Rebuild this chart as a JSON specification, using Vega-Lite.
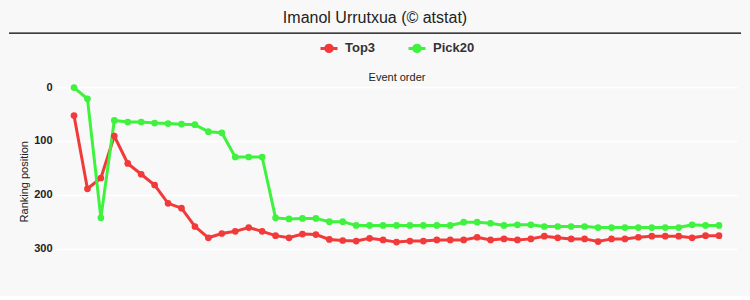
{
  "$schema": "https://vega.github.io/schema/vega-lite/v6.json",
  "width": 681,
  "height": 188.5,
  "autosize": {"type": "pad"},
  "padding": {"top": 10, "bottom": 20, "left": 8, "right": 10},
  "background": "#f8f8f8",
  "title": {
    "text": "Imanol Urrutxua (© atstat)",
    "fontSize": 16,
    "fontWeight": "normal",
    "font": "Liberation Sans",
    "color": "#222222",
    "anchor": "middle",
    "frame": "bounds",
    "offset": 6
  },
  "config": {
    "view": {"stroke": null},
    "font": "Liberation Sans",
    "axis": {"labelOverlap": false},
    "legend": {"layout": {"top": {"anchor": "middle"}}}
  },
  "data": {
    "values": [
      {"event": 1, "series": "Top3", "rank": 53},
      {"event": 2, "series": "Top3", "rank": 189},
      {"event": 3, "series": "Top3", "rank": 169},
      {"event": 4, "series": "Top3", "rank": 91},
      {"event": 5, "series": "Top3", "rank": 142},
      {"event": 6, "series": "Top3", "rank": 162},
      {"event": 7, "series": "Top3", "rank": 182},
      {"event": 8, "series": "Top3", "rank": 216},
      {"event": 9, "series": "Top3", "rank": 225},
      {"event": 10, "series": "Top3", "rank": 259},
      {"event": 11, "series": "Top3", "rank": 280},
      {"event": 12, "series": "Top3", "rank": 272},
      {"event": 13, "series": "Top3", "rank": 268},
      {"event": 14, "series": "Top3", "rank": 261},
      {"event": 15, "series": "Top3", "rank": 268},
      {"event": 16, "series": "Top3", "rank": 276},
      {"event": 17, "series": "Top3", "rank": 280},
      {"event": 18, "series": "Top3", "rank": 273},
      {"event": 19, "series": "Top3", "rank": 274},
      {"event": 20, "series": "Top3", "rank": 283},
      {"event": 21, "series": "Top3", "rank": 285},
      {"event": 22, "series": "Top3", "rank": 286},
      {"event": 23, "series": "Top3", "rank": 281},
      {"event": 24, "series": "Top3", "rank": 284},
      {"event": 25, "series": "Top3", "rank": 288},
      {"event": 26, "series": "Top3", "rank": 286},
      {"event": 27, "series": "Top3", "rank": 286},
      {"event": 28, "series": "Top3", "rank": 284},
      {"event": 29, "series": "Top3", "rank": 284},
      {"event": 30, "series": "Top3", "rank": 284},
      {"event": 31, "series": "Top3", "rank": 279},
      {"event": 32, "series": "Top3", "rank": 284},
      {"event": 33, "series": "Top3", "rank": 282},
      {"event": 34, "series": "Top3", "rank": 284},
      {"event": 35, "series": "Top3", "rank": 282},
      {"event": 36, "series": "Top3", "rank": 277},
      {"event": 37, "series": "Top3", "rank": 280},
      {"event": 38, "series": "Top3", "rank": 282},
      {"event": 39, "series": "Top3", "rank": 282},
      {"event": 40, "series": "Top3", "rank": 287},
      {"event": 41, "series": "Top3", "rank": 282},
      {"event": 42, "series": "Top3", "rank": 282},
      {"event": 43, "series": "Top3", "rank": 279},
      {"event": 44, "series": "Top3", "rank": 277},
      {"event": 45, "series": "Top3", "rank": 277},
      {"event": 46, "series": "Top3", "rank": 277},
      {"event": 47, "series": "Top3", "rank": 280},
      {"event": 48, "series": "Top3", "rank": 276},
      {"event": 49, "series": "Top3", "rank": 276},
      {"event": 1, "series": "Pick20", "rank": 1},
      {"event": 2, "series": "Pick20", "rank": 22},
      {"event": 3, "series": "Pick20", "rank": 243},
      {"event": 4, "series": "Pick20", "rank": 62},
      {"event": 5, "series": "Pick20", "rank": 65},
      {"event": 6, "series": "Pick20", "rank": 65},
      {"event": 7, "series": "Pick20", "rank": 67},
      {"event": 8, "series": "Pick20", "rank": 68},
      {"event": 9, "series": "Pick20", "rank": 69},
      {"event": 10, "series": "Pick20", "rank": 70},
      {"event": 11, "series": "Pick20", "rank": 83},
      {"event": 12, "series": "Pick20", "rank": 85},
      {"event": 13, "series": "Pick20", "rank": 130},
      {"event": 14, "series": "Pick20", "rank": 130},
      {"event": 15, "series": "Pick20", "rank": 130},
      {"event": 16, "series": "Pick20", "rank": 243},
      {"event": 17, "series": "Pick20", "rank": 245},
      {"event": 18, "series": "Pick20", "rank": 244},
      {"event": 19, "series": "Pick20", "rank": 244},
      {"event": 20, "series": "Pick20", "rank": 250},
      {"event": 21, "series": "Pick20", "rank": 250},
      {"event": 22, "series": "Pick20", "rank": 257},
      {"event": 23, "series": "Pick20", "rank": 257},
      {"event": 24, "series": "Pick20", "rank": 257},
      {"event": 25, "series": "Pick20", "rank": 257},
      {"event": 26, "series": "Pick20", "rank": 257},
      {"event": 27, "series": "Pick20", "rank": 257},
      {"event": 28, "series": "Pick20", "rank": 257},
      {"event": 29, "series": "Pick20", "rank": 257},
      {"event": 30, "series": "Pick20", "rank": 251},
      {"event": 31, "series": "Pick20", "rank": 251},
      {"event": 32, "series": "Pick20", "rank": 253},
      {"event": 33, "series": "Pick20", "rank": 257},
      {"event": 34, "series": "Pick20", "rank": 256},
      {"event": 35, "series": "Pick20", "rank": 256},
      {"event": 36, "series": "Pick20", "rank": 259},
      {"event": 37, "series": "Pick20", "rank": 259},
      {"event": 38, "series": "Pick20", "rank": 259},
      {"event": 39, "series": "Pick20", "rank": 259},
      {"event": 40, "series": "Pick20", "rank": 261},
      {"event": 41, "series": "Pick20", "rank": 261},
      {"event": 42, "series": "Pick20", "rank": 261},
      {"event": 43, "series": "Pick20", "rank": 261},
      {"event": 44, "series": "Pick20", "rank": 261},
      {"event": 45, "series": "Pick20", "rank": 261},
      {"event": 46, "series": "Pick20", "rank": 261},
      {"event": 47, "series": "Pick20", "rank": 256},
      {"event": 48, "series": "Pick20", "rank": 257},
      {"event": 49, "series": "Pick20", "rank": 257}
    ]
  },
  "layer": [
    {
      "encoding": {
        "x": {
          "field": "event",
          "type": "quantitative",
          "scale": {"domain": [-0.34, 50.34], "nice": false, "zero": false},
          "axis": {
            "orient": "top",
            "title": "Event order",
            "titleFontSize": 11,
            "titleFontWeight": "normal",
            "titleColor": "#222222",
            "titlePadding": 5,
            "labels": false,
            "ticks": false,
            "domain": false,
            "grid": false
          }
        },
        "y": {
          "field": "rank",
          "type": "quantitative",
          "scale": {"domain": [0, 350], "reverse": true, "nice": false},
          "axis": {
            "title": "Ranking position",
            "titleFontSize": 11,
            "titleFontWeight": "normal",
            "titleColor": "#222222",
            "titlePadding": 4,
            "values": [0, 50, 100, 150, 200, 250, 300, 350],
            "labelOverlap": false,
            "labelFontSize": 11,
            "labelFontWeight": "bold",
            "labelColor": "#222222",
            "labelPadding": 4,
            "ticks": false,
            "domain": false,
            "gridColor": "#ffffff",
            "gridWidth": 1.5,
            "gridOpacity": 1
          }
        },
        "color": {
          "field": "series",
          "type": "nominal",
          "scale": {"domain": ["Top3", "Pick20"], "range": ["#f23a3a", "#3ef23e"]},
          "legend": {
            "title": null,
            "orient": "top",
            "direction": "horizontal",
            "symbolType": "M-1,0L1,0M-0.38,0A0.38,0.38,0,1,1,0.38,0A0.38,0.38,0,1,1,-0.38,0Z",
            "symbolSize": 289,
            "symbolStrokeWidth": 3,
            "labelFontSize": 13,
            "labelFontWeight": "bold",
            "labelColor": "#333333",
            "labelOffset": 6,
            "columnPadding": 26,
            "offset": 13
          }
        }
      },
      "layer": [
        {"mark": {"type": "line", "strokeWidth": 3}},
        {"mark": {"type": "point", "filled": true, "size": 45, "opacity": 1}}
      ]
    },
    {
      "data": {"values": [{"k": 1}]},
      "mark": {"type": "rule", "color": "#000000", "strokeWidth": 1.3, "clip": false},
      "encoding": {
        "x": {"datum": -3.84, "type": "quantitative"},
        "x2": {"datum": 50.64},
        "y": {"datum": -100, "type": "quantitative"}
      }
    }
  ]
}
